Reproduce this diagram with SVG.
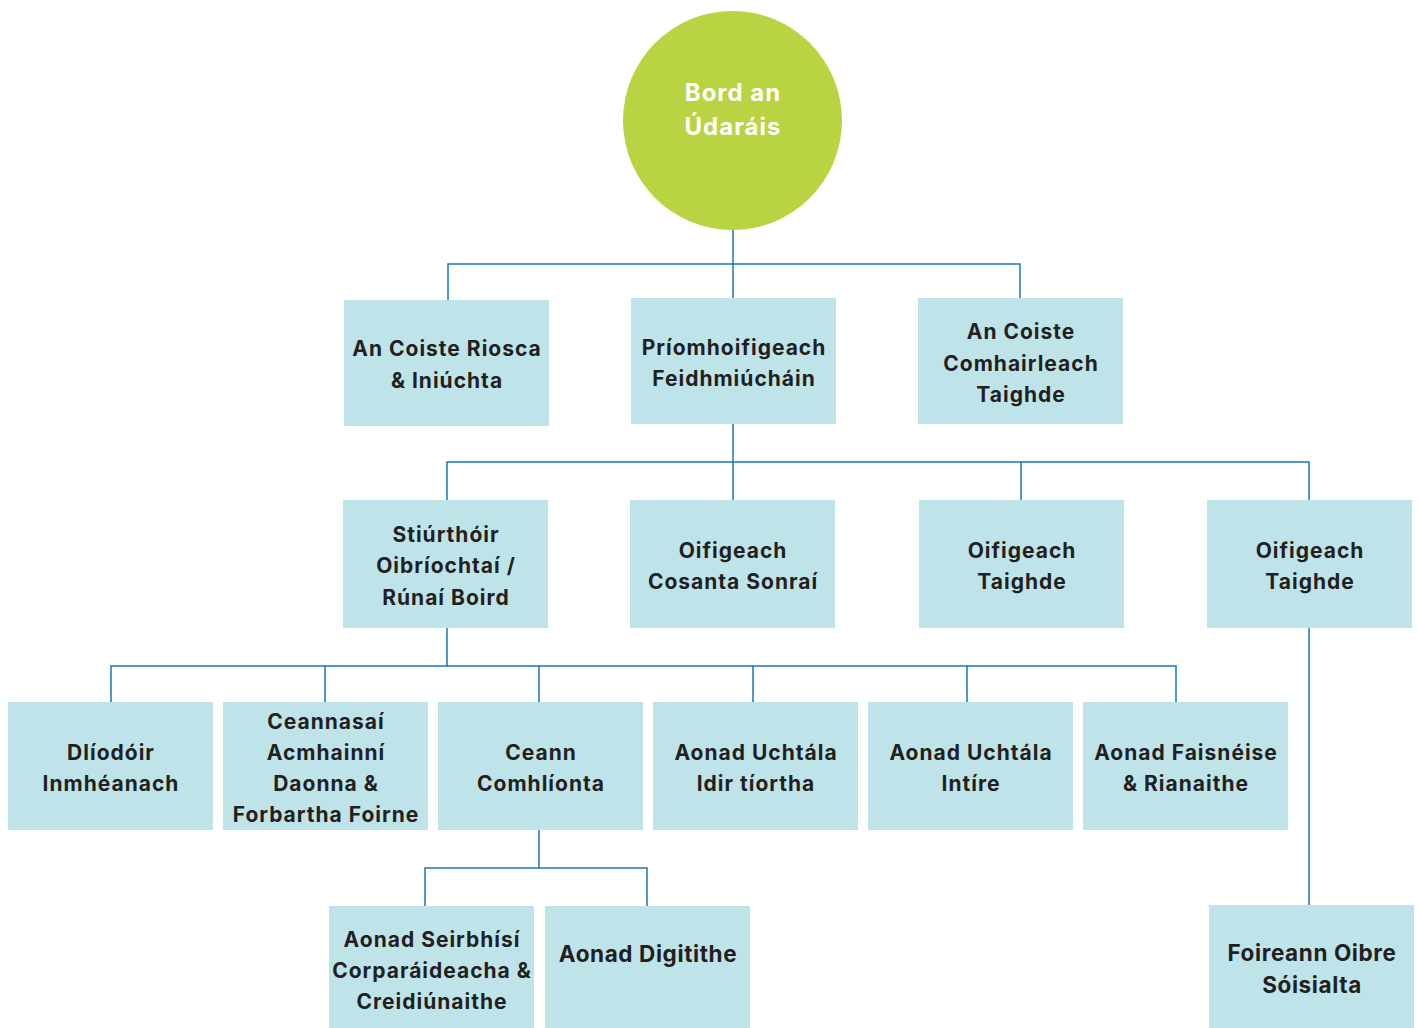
<svg xmlns="http://www.w3.org/2000/svg" width="1419" height="1028" viewBox="0 0 1419 1028">
<style>
.box{fill:#bee4ea}
.t{font-family:Inter,"Noto Sans","Liberation Sans",sans-serif;font-weight:700;font-size:21px;letter-spacing:1px;fill:#231f20;text-anchor:middle}
.big{font-size:22.5px;letter-spacing:0.6px}
.ct{font-family:Inter,"Noto Sans","Liberation Sans",sans-serif;font-weight:700;font-size:24px;letter-spacing:1px;fill:#ffffff;text-anchor:middle}
.c{fill:none;stroke:#1b75bc;stroke-width:1.5}
</style>
<rect width="1419" height="1028" fill="#ffffff"/>
<g id="connectors">
<path class="c" d="M733 230V298M448 300V264H1020V298"/>
<path class="c" d="M733 424V500M447 500V462H1309V500M1021 462V500"/>
<path class="c" d="M447 628V666M111 702V666H1176V702M325 666V702M539 666V702M753 666V702M967 666V702"/>
<path class="c" d="M539 830V868M425 906V868H647V906"/>
<path class="c" d="M1309 628V905"/>
</g>
<g id="bord">
<circle cx="732.5" cy="120.5" r="109.5" fill="#b9d443"/>
<text class="ct" x="733" y="101">Bord an</text>
<text class="ct" x="733" y="135">Údaráis</text>
</g>
<g id="coiste-riosca">
<rect class="box" x="344" y="300" width="205" height="126"/>
<text class="t" x="447" y="356">An Coiste Riosca</text>
<text class="t" x="447" y="388">&amp; Iniúchta</text>
</g>
<g id="priomhoifigeach">
<rect class="box" x="631" y="298" width="205" height="126"/>
<text class="t" x="734" y="355">Príomhoifigeach</text>
<text class="t" x="734" y="386">Feidhmiúcháin</text>
</g>
<g id="coiste-comhairleach">
<rect class="box" x="918" y="298" width="205" height="126"/>
<text class="t" x="1021" y="339">An Coiste</text>
<text class="t" x="1021" y="371">Comhairleach</text>
<text class="t" x="1021" y="402">Taighde</text>
</g>
<g id="stiurthoir">
<rect class="box" x="343" y="500" width="205" height="128"/>
<text class="t" x="446" y="542">Stiúrthóir</text>
<text class="t" x="446" y="573">Oibríochtaí /</text>
<text class="t" x="446" y="605">Rúnaí Boird</text>
</g>
<g id="cosanta-sonrai">
<rect class="box" x="630" y="500" width="205" height="128"/>
<text class="t" x="733" y="558">Oifigeach</text>
<text class="t" x="733" y="589">Cosanta Sonraí</text>
</g>
<g id="taighde-1">
<rect class="box" x="919" y="500" width="205" height="128"/>
<text class="t" x="1022" y="558">Oifigeach</text>
<text class="t" x="1022" y="589">Taighde</text>
</g>
<g id="taighde-2">
<rect class="box" x="1207" y="500" width="205" height="128"/>
<text class="t" x="1310" y="558">Oifigeach</text>
<text class="t" x="1310" y="589">Taighde</text>
</g>
<g id="dliodoir">
<rect class="box" x="8" y="702" width="205" height="128"/>
<text class="t" x="111" y="760">Dlíodóir</text>
<text class="t" x="111" y="791">Inmhéanach</text>
</g>
<g id="ceannasai">
<rect class="box" x="223" y="702" width="205" height="128"/>
<text class="t" x="326" y="729">Ceannasaí</text>
<text class="t" x="326" y="760">Acmhainní</text>
<text class="t" x="326" y="791">Daonna &amp;</text>
<text class="t" x="326" y="822">Forbartha Foirne</text>
</g>
<g id="ceann-comhlionta">
<rect class="box" x="438" y="702" width="205" height="128"/>
<text class="t" x="541" y="760">Ceann</text>
<text class="t" x="541" y="791">Comhlíonta</text>
</g>
<g id="uchtala-idir">
<rect class="box" x="653" y="702" width="205" height="128"/>
<text class="t" x="756" y="760">Aonad Uchtála</text>
<text class="t" x="756" y="791">Idir tíortha</text>
</g>
<g id="uchtala-intire">
<rect class="box" x="868" y="702" width="205" height="128"/>
<text class="t" x="971" y="760">Aonad Uchtála</text>
<text class="t" x="971" y="791">Intíre</text>
</g>
<g id="faisneise">
<rect class="box" x="1083" y="702" width="205" height="128"/>
<text class="t" x="1186" y="760">Aonad Faisnéise</text>
<text class="t" x="1186" y="791">&amp; Rianaithe</text>
</g>
<g id="seirbhisi">
<rect class="box" x="329" y="906" width="205" height="122"/>
<text class="t" x="432" y="947">Aonad Seirbhísí</text>
<text class="t" x="432" y="978">Corparáideacha &amp;</text>
<text class="t" x="432" y="1009">Creidiúnaithe</text>
</g>
<g id="digitithe">
<rect class="box" x="545" y="906" width="205" height="122"/>
<text class="t big" x="648" y="962">Aonad Digitithe</text>
</g>
<g id="foireann">
<rect class="box" x="1209" y="905" width="205" height="123"/>
<text class="t big" x="1312" y="961">Foireann Oibre</text>
<text class="t big" x="1312" y="993">Sóisialta</text>
</g>
</svg>
